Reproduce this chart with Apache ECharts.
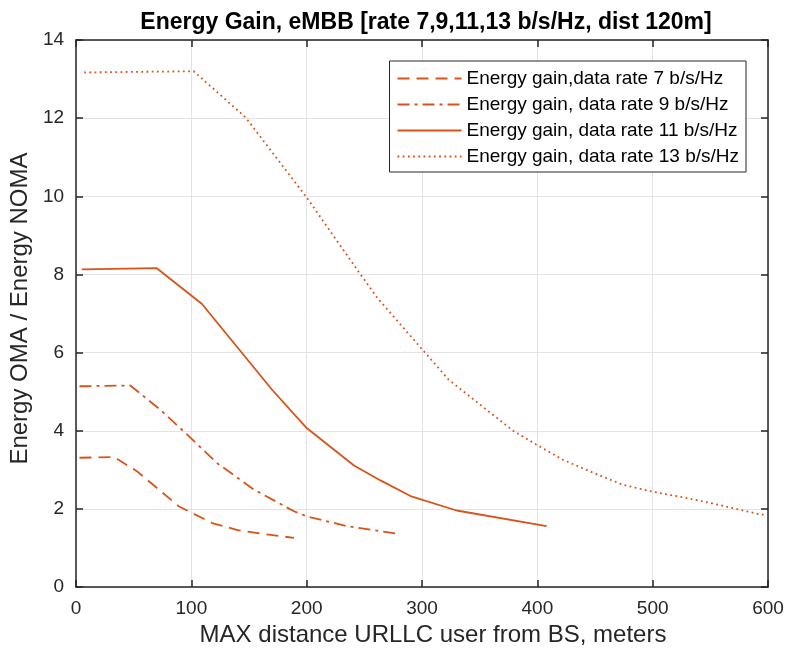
<!DOCTYPE html>
<html><head><meta charset="utf-8">
<script src="https://cdn.jsdelivr.net/npm/echarts@6/dist/echarts.min.js"></script>
<style>html,body{margin:0;padding:0;background:#fff}#c{width:787px;height:652px}</style>
</head><body><div id="c"></div>
<script>
const titleText = 'Energy Gain, eMBB [rate 7,9,11,13 b/s/Hz, dist 120m]';
const xTitle = 'MAX distance URLLC user from BS, meters';
const yTitle = 'Energy OMA / Energy NOMA';
const names = ['Energy gain,data rate 7 b/s/Hz','Energy gain, data rate 9 b/s/Hz','Energy gain, data rate 11 b/s/Hz','Energy gain, data rate 13 b/s/Hz'];

const x7 = [3, 33, 53, 89, 99, 118, 140, 160, 189];
const y7 = [3.31, 3.33, 2.96, 2.07, 1.92, 1.64, 1.46, 1.37, 1.26];
const x9 = [3, 47, 73, 95, 122, 154, 189, 200, 235, 278];
const y9 = [5.14, 5.16, 4.54, 3.94, 3.18, 2.5, 1.94, 1.81, 1.56, 1.37];
const x11 = [5, 70, 109, 170, 200, 241, 264, 290, 330, 408];
const y11 = [8.13, 8.16, 7.25, 5.05, 4.07, 3.11, 2.73, 2.33, 1.96, 1.56];
const x13 = [7, 102, 147, 200, 245, 261, 323, 379, 399, 422, 449, 474, 500, 524, 552, 593, 598];
const y13 = [13.17, 13.2, 12.02, 9.97, 8.07, 7.41, 5.31, 4.0, 3.65, 3.26, 2.92, 2.62, 2.44, 2.31, 2.14, 1.86, 1.85];

const xTicks = [0, 100, 200, 300, 400, 500, 600];
const yTicks = [0, 2, 4, 6, 8, 10, 12, 14];

const zip = (a, b) => a.map((v, i) => [v, b[i]]);
const col = '#D95319';
const font = 'Liberation Sans, Arial, Helvetica, sans-serif';
const dashes = [[12, 7], [12, 5, 3, 5], 'solid', [1.8, 3.4]];
const datas = [zip(x7, y7), zip(x9, y9), zip(x11, y11), zip(x13, y13)];

const axisCommon = {
  axisLine: {show: true, onZero: false, lineStyle: {color: '#262626', width: 1.5}},
  axisTick: {show: true, inside: true, length: 7, lineStyle: {color: '#262626', width: 1.5}},
};

const chart = echarts.init(document.getElementById('c'), null, {renderer: 'canvas'});
chart.setOption({
  animation: false,
  backgroundColor: '#fff',
  title: {text: titleText, left: 421, textAlign: 'center', top: 6,
    textStyle: {fontFamily: font, fontSize: 23, fontWeight: 'bold', color: '#000'}},
  grid: {left: 75, right: 19, top: 40, bottom: 64, containLabel: false},
  legend: {
    orient: 'vertical', right: 41, top: 61, itemWidth: 64, itemHeight: 14, itemGap: 7,
    padding: [8, 7, 6, 7], borderColor: '#262626', borderWidth: 1, backgroundColor: '#fff',
    borderRadius: 0,
    itemStyle: {opacity: 0},
    textStyle: {fontFamily: font, fontSize: 19, color: '#000'},
    data: names
  },
  xAxis: [{
    type: 'value', min: 0, max: 600, interval: 100, position: 'bottom',
    name: xTitle, nameLocation: 'middle', nameGap: 33,
    nameTextStyle: {fontFamily: font, fontSize: 24, color: '#262626', padding: [0, 0, 0, 22]},
    axisLabel: {fontFamily: font, fontSize: 19, color: '#262626', margin: 12,
      formatter: v => xTicks.includes(v) ? String(v) : ''},
    splitLine: {show: true, lineStyle: {color: '#e3e3e3', width: 1}},
    ...axisCommon
  }, {
    type: 'value', min: 0, max: 600, interval: 100, position: 'top',
    axisLabel: {show: false}, splitLine: {show: false}, ...axisCommon
  }],
  yAxis: [{
    type: 'value', min: 0, max: 14, interval: 2, position: 'left',
    name: yTitle, nameLocation: 'middle', nameGap: 41,
    nameTextStyle: {fontFamily: font, fontSize: 24, color: '#262626', padding: [0, 0, 0, 10]},
    axisLabel: {fontFamily: font, fontSize: 19, color: '#262626', margin: 12,
      formatter: v => yTicks.includes(v) ? String(v) : ''},
    splitLine: {show: true, lineStyle: {color: '#e3e3e3', width: 1}},
    ...axisCommon
  }, {
    type: 'value', min: 0, max: 14, interval: 2, position: 'right',
    axisLabel: {show: false}, splitLine: {show: false}, ...axisCommon
  }],
  series: names.map((n, i) => ({
    name: n, type: 'line', data: datas[i], showSymbol: false, symbol: 'none',
    xAxisIndex: 0, yAxisIndex: 0,
    lineStyle: {color: col, width: i === 3 ? 1.8 : 1.8, type: dashes[i]},
    itemStyle: {color: col}
  }))
});
</script></body></html>
